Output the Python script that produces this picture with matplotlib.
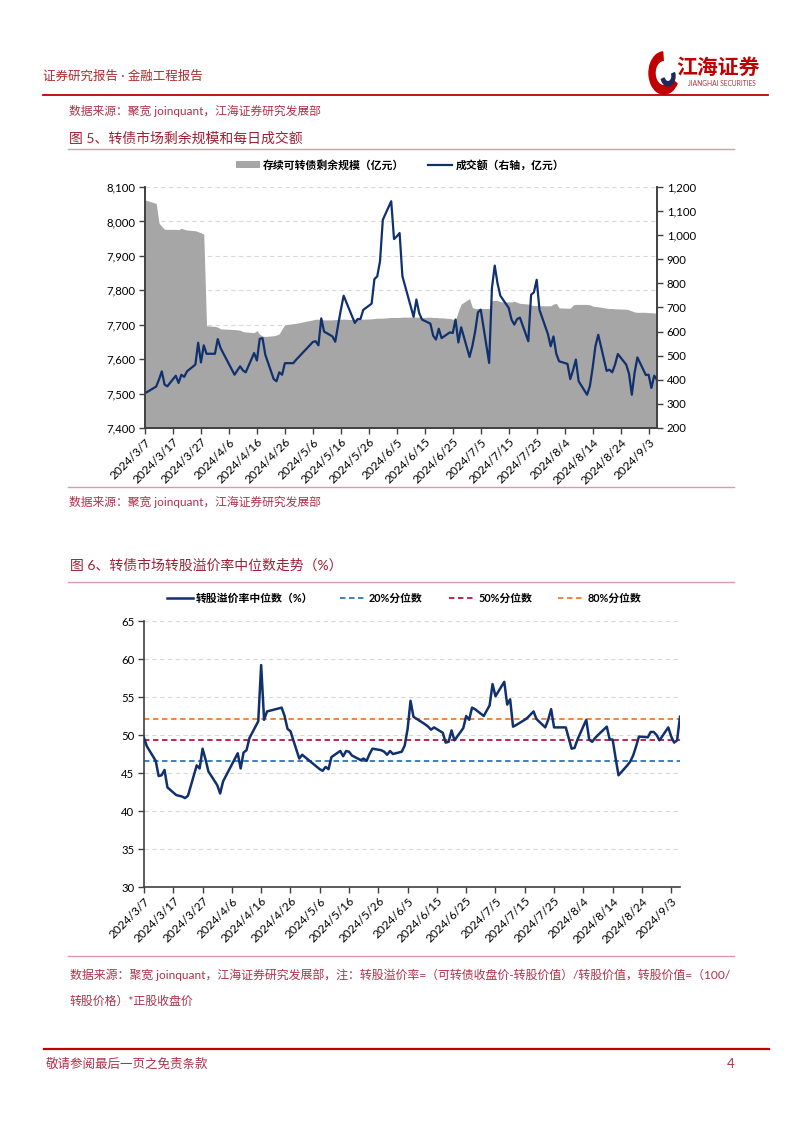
import numpy as np
import pandas as pd
import matplotlib
matplotlib.use('Agg')
import matplotlib.pyplot as plt
from matplotlib.lines import Line2D
from matplotlib.patches import Patch, Wedge
from matplotlib.ticker import FuncFormatter

plt.rcParams['font.family'] = ['Lato', 'Noto Sans CJK SC', 'DejaVu Sans']

W, H = 802, 1133

# trading days 2024/3/7 - 2024/9/6 (exchange holidays removed)
holidays = ['2024-04-04', '2024-04-05', '2024-05-01', '2024-05-02', '2024-05-03', '2024-06-10']
dates = pd.bdate_range('2024-03-07', '2024-09-06', freq='C', holidays=holidays)

# 存续可转债剩余规模（亿元）
balance = [8062, 8060, 8052, 7996, 7985, 7977, 7977, 7977, 7976, 7980,
           7977, 7975, 7973, 7970, 7967, 7963, 7697, 7695, 7693, 7688,
           7686, 7685, 7684, 7680, 7679, 7677, 7683, 7672, 7667, 7666,
           7668, 7670, 7674, 7688, 7700, 7703, 7704, 7714, 7716, 7716,
           7716, 7714, 7714, 7715, 7715, 7716, 7716, 7715, 7716, 7716,
           7716, 7716, 7717, 7718, 7719, 7719, 7719, 7721, 7721, 7721,
           7721, 7722, 7722, 7722, 7722, 7721, 7722, 7721, 7721, 7720,
           7720, 7718, 7716, 7715, 7740, 7760, 7776, 7750, 7747, 7747,
           7747, 7747, 7770, 7771, 7770, 7767, 7766, 7766, 7768, 7765,
           7762, 7760, 7757, 7756, 7756, 7755, 7755, 7755, 7760, 7762,
           7749, 7748, 7748, 7757, 7759, 7759, 7759, 7758, 7754, 7753,
           7752, 7748, 7747, 7747, 7746, 7746, 7745, 7743, 7740, 7737,
           7736, 7736, 7735, 7735, 7734, 7734]

# 成交额（右轴，亿元）
turnover = [345, 351, 372, 401, 435, 380, 373, 417, 387, 421,
            412, 435, 463, 554, 472, 543, 508, 508, 569, 532,
            421, 439, 456, 439, 431, 511, 480, 570, 573, 504,
            403, 394, 431, 421, 469, 469, 483, 557, 560, 543,
            655, 600, 580, 558, 626, 690, 749, 664, 636, 652,
            652, 690, 716, 818, 829, 892, 1064, 1141, 984, 995,
            1009, 830, 661, 733, 677, 650, 633, 583, 567, 612,
            573, 597, 594, 650, 555, 618, 495, 540, 600, 680,
            691, 470, 780, 874, 800, 749, 698, 650, 629, 652,
            658, 560, 753, 763, 815, 690, 590, 539, 580, 508,
            477, 466, 403, 440, 484, 394, 338, 373, 450, 540,
            587, 437, 442, 431, 463, 507, 463, 425, 338, 430,
            493, 420, 421, 366, 417, 400]

# 转股溢价率中位数（%）
premium = [49.6, 48.5, 46.6, 44.6, 44.7, 45.4, 43.1, 42.1, 42.0, 41.9,
           41.7, 42.0, 46.0, 45.6, 48.2, 46.8, 45.2, 43.4, 42.3, 43.9,
           47.6, 45.6, 47.7, 48.0, 49.6, 51.8, 59.2, 52.0, 53.1, 53.2,
           53.5, 53.6, 52.5, 50.8, 50.5, 46.9, 47.4, 45.5, 45.3, 45.8,
           45.5, 47.1, 47.9, 47.2, 47.9, 47.8, 47.3, 46.7, 46.9, 46.6,
           47.5, 48.2, 48.0, 47.8, 47.4, 47.9, 47.5, 47.8, 48.6, 50.8,
           54.5, 52.4, 51.4, 51.1, 50.7, 51.0, 50.3, 49.0, 49.1, 50.6,
           49.3, 50.9, 52.5, 52.0, 53.6, 53.4, 52.5, 53.2, 53.9, 56.7,
           55.1, 57.0, 54.0, 54.7, 51.1, 51.3, 52.0, 52.3, 52.7, 53.1,
           52.1, 51.0, 52.0, 53.4, 51.0, 51.0, 51.0, 49.6, 48.2, 48.3,
           49.4, 52.0, 49.4, 49.1, 49.6, 50.0, 51.1, 49.4, 49.4, 47.0,
           44.7, 46.0, 46.5, 47.3, 48.5, 49.8, 49.7, 50.4, 50.4, 50.0,
           49.3, 51.0, 49.8, 49.0, 49.3, 52.4]

pct_names = ['20%分位数', '50%分位数', '80%分位数']
pct_values = [46.55, 49.35, 52.15]
pct_colors = ['#2E75B6', '#C0143C', '#ED7D31']

tick_dates = pd.date_range('2024-03-07', periods=19, freq='10D')
tick_labels = [f'{d.year}/{d.month}/{d.day}' for d in tick_dates]

NAVY = '#10306E'
AXC = '#404040'
RED = '#C00000'
TXT = '#B2304A'
TITLE = '#9E1F33'
PINK = '#DE9AA4'

fig = plt.figure(figsize=(W / 100, H / 100), dpi=100)


def rect(x0, y0, x1, y1):
    return [x0 / W, 1 - y1 / H, (x1 - x0) / W, (y1 - y0) / H]


def ftext(x, y, s, **kw):
    kw.setdefault('va', 'center')
    fig.text(x / W, 1 - y / H, s, **kw)


def fline(x0, x1, y, color, lw):
    fig.add_artist(Line2D([x0 / W, x1 / W], [1 - y / H, 1 - y / H],
                          color=color, lw=lw, transform=fig.transFigure))


def style_dates(ax):
    ax.set_xlim(dates[0], dates[-1])
    ax.set_xticks(tick_dates)
    ax.set_xticklabels(tick_labels, rotation=45, ha='right', rotation_mode='anchor')
    ax.tick_params(axis='x', direction='out', length=4, width=1, color=AXC,
                   labelsize=8.6, pad=2)


comma = FuncFormatter(lambda v, p: f'{v:,.0f}')

# ---------------- page header
ftext(43, 76, '证券研究报告 · 金融工程报告', fontsize=9, color='#B22A2A')
fig.add_artist(Wedge((664 / W, 1 - 73 / H), 15 / W, 95, 330, width=6 / W,
                     color=RED, transform=fig.transFigure))
fig.add_artist(Wedge((668 / W, 1 - 76 / H), 7 / W, 200, 20, width=3 / W,
                     color='#1F2A5A', transform=fig.transFigure))
ftext(718, 68, '江海证券', fontsize=15, color=RED, fontweight='bold', ha='center')
ftext(722, 84, 'JIANGHAI SECURITIES', fontsize=4.8, color='#A8323A', ha='center')
fline(43, 768, 95, RED, 1.3)

# ---------------- figure 5
ftext(69, 111, '数据来源：聚宽 joinquant，江海证券研究发展部', fontsize=8.5, color=TXT)
ftext(69, 138, '图 5、转债市场剩余规模和每日成交额', fontsize=10, color=TITLE)
fline(68, 734, 149, PINK, 1)

ax1 = fig.add_axes(rect(145, 187, 657, 428))
ax1.fill_between(dates, balance, 7400, color='#A6A6A6', lw=0, zorder=1)
ax1.set_ylim(7400, 8100)
ax1.set_yticks(range(7400, 8101, 100))
ax1.yaxis.set_major_formatter(comma)
ax1.grid(axis='y', color='#D9D9D9', ls=(0, (4, 3)), lw=0.8)
ax1.set_axisbelow(True)
style_dates(ax1)
ax1.tick_params(axis='y', direction='out', length=4, width=1, color=AXC,
                labelsize=8.2, pad=3)

ax2 = ax1.twinx()
ax2.plot(dates, turnover, color=NAVY, lw=1.6)
ax2.set_ylim(200, 1200)
ax2.set_yticks(range(200, 1201, 100))
ax2.yaxis.set_major_formatter(comma)
ax2.tick_params(axis='y', direction='out', length=4, width=1, color=AXC,
                labelsize=8.2, pad=3)
for a in (ax1, ax2):
    a.spines['top'].set_visible(False)
    for s in ('left', 'right', 'bottom'):
        a.spines[s].set_color(AXC)
        a.spines[s].set_linewidth(1.2)

h1 = [Patch(facecolor='#A6A6A6', edgecolor='none'), Line2D([], [], color=NAVY, lw=1.6)]
fig.legend(h1, ['存续可转债剩余规模（亿元）', '成交额（右轴，亿元）'], ncol=2,
           loc='center', bbox_to_anchor=(400 / W, 1 - 165 / H), frameon=False,
           prop={'size': 7.8, 'weight': 'bold'}, handlelength=2.2, handleheight=0.7,
           handletextpad=0.3, columnspacing=2.2)

fline(68, 734, 487, PINK, 1)
ftext(69, 502, '数据来源：聚宽 joinquant，江海证券研究发展部', fontsize=8.5, color=TXT)

# ---------------- figure 6
ftext(70, 565, '图 6、转债市场转股溢价率中位数走势（%）', fontsize=10, color=TITLE)
fline(68, 734, 582, PINK, 1)

ax3 = fig.add_axes(rect(144, 621, 680, 887))
ax3.plot(dates, premium, color=NAVY, lw=1.8, zorder=3)
for v, c in zip(pct_values, pct_colors):
    ax3.axhline(v, color=c, ls=(0, (3, 2)), lw=1.3, zorder=2)
ax3.set_ylim(30, 65)
ax3.set_yticks(range(30, 66, 5))
ax3.grid(axis='y', color='#D9D9D9', ls=(0, (4, 3)), lw=0.8)
ax3.set_axisbelow(True)
style_dates(ax3)
ax3.tick_params(axis='y', direction='out', length=4, width=1, color=AXC,
                labelsize=8.2, pad=3)
ax3.spines['top'].set_visible(False)
ax3.spines['right'].set_visible(False)
for s in ('left', 'bottom'):
    ax3.spines[s].set_color(AXC)
    ax3.spines[s].set_linewidth(1.2)

h2 = [Line2D([], [], color=NAVY, lw=1.8)] + \
     [Line2D([], [], color=c, lw=1.3, ls=(0, (3, 2))) for c in pct_colors]
fig.legend(h2, ['转股溢价率中位数（%）'] + pct_names, ncol=4,
           loc='center', bbox_to_anchor=(404 / W, 1 - 598 / H), frameon=False,
           prop={'size': 7.8, 'weight': 'bold'}, handlelength=2.4,
           handletextpad=0.3, columnspacing=2.4)

fline(68, 734, 956, PINK, 1)
ftext(70, 975, '数据来源：聚宽 joinquant，江海证券研究发展部，注：转股溢价率=（可转债收盘价-转股价值）/转股价值，转股价值=（100/',
      fontsize=8.6, color=TXT)
ftext(70, 1001, '转股价格）*正股收盘价', fontsize=8.6, color=TXT)

# ---------------- footer
fline(44, 769, 1049, RED, 1.6)
ftext(46, 1064, '敬请参阅最后一页之免责条款', fontsize=9, color=TXT)
ftext(735, 1064, '4', fontsize=9.5, color=TXT, ha='right')

fig.savefig('out.png', dpi=100)
